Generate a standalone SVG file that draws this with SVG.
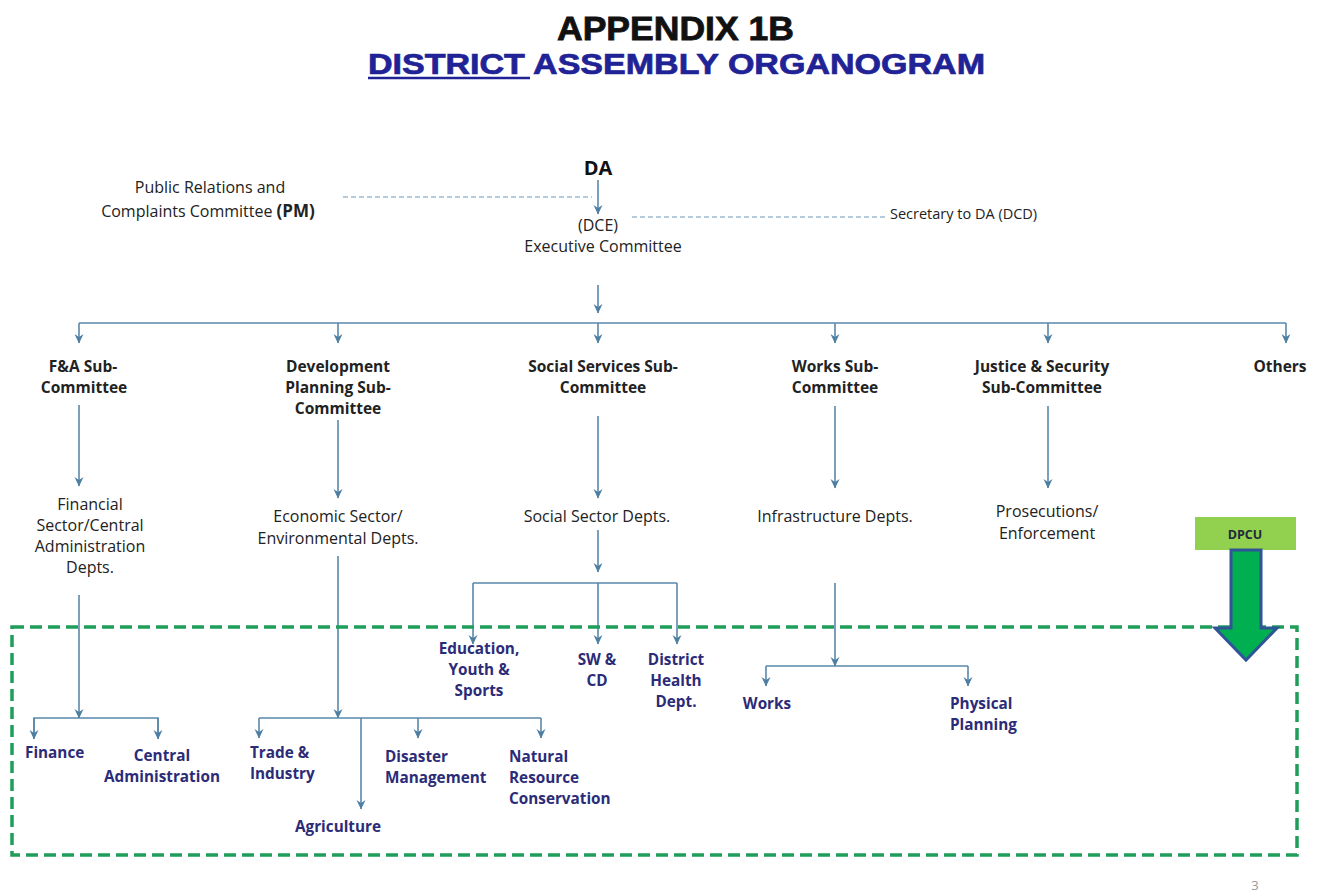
<svg xmlns="http://www.w3.org/2000/svg" width="1325" height="893" viewBox="0 0 1325 893">
<defs>
<marker id="ah" markerWidth="10" markerHeight="10" refX="9" refY="5" orient="auto" markerUnits="userSpaceOnUse" viewBox="0 0 10 10">
<path d="M0,0.5 L9.5,5 L0,9.5 L3,5 Z" fill="#4e7fa3"/>
</marker>
<style>
.c{stroke:#5a88ab;stroke-width:1.6;fill:none}
.a{marker-end:url(#ah)}
.d{stroke:#6d95b8;stroke-width:1.2;stroke-dasharray:5 3;fill:none}
.t{font-family:"Open Sans","Liberation Sans",sans-serif;font-size:16px;fill:#222;text-anchor:middle}
.tl{font-family:"Open Sans","Liberation Sans",sans-serif;font-size:14.5px;fill:#222}
.b{font-family:"Open Sans","Liberation Sans",sans-serif;font-size:15.5px;font-weight:bold;fill:#222;text-anchor:middle}
.s{font-family:"Open Sans","Liberation Sans",sans-serif;font-size:15.3px;font-weight:bold;fill:#2b2b78}
.m{text-anchor:middle}
</style>
</defs>
<rect width="1325" height="893" fill="#fff"/>
<g id="title">
<text x="557" y="40" font-family="Liberation Sans,Arial,sans-serif" font-size="33" font-weight="bold" fill="#111" stroke="#111" stroke-width="0.8" textLength="237" lengthAdjust="spacingAndGlyphs">APPENDIX 1B</text>
<text x="368" y="74" font-family="Liberation Sans,Arial,sans-serif" font-size="29" font-weight="bold" fill="#1f2396" stroke="#1f2396" stroke-width="0.7" textLength="617" lengthAdjust="spacingAndGlyphs">DISTRICT ASSEMBLY ORGANOGRAM</text>
<line x1="368" y1="78" x2="530" y2="78" stroke="#1f2396" stroke-width="2.5"/>
</g>
<g id="connectors">
<line class="c a" x1="598" y1="180" x2="598" y2="214"/>
<line class="d" x1="343" y1="197" x2="592" y2="197"/>
<line class="d" x1="632" y1="217" x2="888" y2="217"/>
<line class="c a" x1="598" y1="285" x2="598" y2="313"/>
<line class="c" x1="79" y1="323" x2="1286" y2="323"/>
<line class="c a" x1="79" y1="323" x2="79" y2="343"/>
<line class="c a" x1="338" y1="323" x2="338" y2="343"/>
<line class="c a" x1="598" y1="323" x2="598" y2="343"/>
<line class="c a" x1="835" y1="323" x2="835" y2="343"/>
<line class="c a" x1="1048" y1="323" x2="1048" y2="343"/>
<line class="c a" x1="1286" y1="323" x2="1286" y2="343"/>
<line class="c a" x1="79" y1="405" x2="79" y2="486"/>
<line class="c a" x1="338" y1="420" x2="338" y2="498"/>
<line class="c a" x1="598" y1="416" x2="598" y2="498"/>
<line class="c a" x1="835" y1="406" x2="835" y2="488"/>
<line class="c a" x1="1048" y1="406" x2="1048" y2="488"/>
<line class="c a" x1="79" y1="595" x2="79" y2="718"/>
<polyline class="c" points="34,738 34,718 158,718 158,738"/>
<line class="c a" x1="34" y1="718" x2="34" y2="739"/>
<line class="c a" x1="158" y1="718" x2="158" y2="739"/>
<line class="c a" x1="338" y1="556" x2="338" y2="718"/>
<line class="c" x1="259" y1="718" x2="541" y2="718"/>
<line class="c a" x1="259" y1="718" x2="259" y2="738"/>
<line class="c a" x1="418" y1="718" x2="418" y2="738"/>
<line class="c a" x1="541" y1="718" x2="541" y2="738"/>
<line class="c a" x1="361" y1="718" x2="361" y2="809"/>
<line class="c a" x1="598" y1="530" x2="598" y2="572"/>
<line class="c" x1="473" y1="583" x2="677" y2="583"/>
<line class="c a" x1="473" y1="583" x2="473" y2="644"/>
<line class="c a" x1="598" y1="583" x2="598" y2="644"/>
<line class="c a" x1="677" y1="583" x2="677" y2="644"/>
<line class="c a" x1="835" y1="583" x2="835" y2="666"/>
<line class="c" x1="766" y1="666" x2="968" y2="666"/>
<line class="c a" x1="766" y1="666" x2="766" y2="686"/>
<line class="c a" x1="968" y1="666" x2="968" y2="686"/>
</g>
<g id="box">
<rect x="12" y="627" width="1285" height="228" fill="none" stroke="#1e9e5a" stroke-width="3.5" stroke-dasharray="12 6"/>
</g>
<g id="dpcu">
<rect x="1195" y="517" width="101" height="33" fill="#92d050"/>
<text x="1245" y="539" font-family="Open Sans,Liberation Sans,sans-serif" font-size="12.5" font-weight="bold" text-anchor="middle" fill="#1e2a3a">DPCU</text>
<path d="M1231,550 L1261,550 L1261,628 L1277,628 L1246,660 L1215,628 L1231,628 Z" fill="#00b050" stroke="#2f5597" stroke-width="3" stroke-linejoin="miter"/>
</g>
<g id="n-da"><text x="598" y="175" font-family="Open Sans,Liberation Sans,sans-serif" font-size="20" font-weight="bold" text-anchor="middle" fill="#111">DA</text></g>
<g id="n-pr">
<text class="t" x="210" y="193">Public Relations and</text>
<text class="t" x="208" y="217">Complaints Committee <tspan font-weight="bold" font-size="17">(PM)</tspan></text>
</g>
<g id="n-dce">
<text class="t" x="598" y="231">(DCE)</text>
<text class="t" x="603" y="252">Executive Committee</text>
</g>
<g id="n-sec"><text class="tl" x="890" y="219">Secretary to DA (DCD)</text></g>
<g id="n-fa"><text class="b" x="83" y="372">F&amp;A Sub-</text><text class="b" x="84" y="393">Committee</text></g>
<g id="n-dev"><text class="b" x="338" y="372">Development</text><text class="b" x="338" y="393">Planning Sub-</text><text class="b" x="338" y="414">Committee</text></g>
<g id="n-soc"><text class="b" x="603" y="372">Social Services Sub-</text><text class="b" x="603" y="393">Committee</text></g>
<g id="n-works"><text class="b" x="835" y="372">Works Sub-</text><text class="b" x="835" y="393">Committee</text></g>
<g id="n-just"><text class="b" x="1042" y="372">Justice &amp; Security</text><text class="b" x="1042" y="393">Sub-Committee</text></g>
<g id="n-oth"><text class="b" x="1280" y="372">Others</text></g>
<g id="n-fin-sec"><text class="t" x="90" y="510">Financial</text><text class="t" x="90" y="531">Sector/Central</text><text class="t" x="90" y="552">Administration</text><text class="t" x="90" y="573">Depts.</text></g>
<g id="n-eco"><text class="t" x="338" y="522">Economic Sector/</text><text class="t" x="338" y="544">Environmental Depts.</text></g>
<g id="n-socs"><text class="t" x="597" y="522">Social Sector Depts.</text></g>
<g id="n-inf"><text class="t" x="835" y="522">Infrastructure Depts.</text></g>
<g id="n-pros"><text class="t" x="1047" y="517">Prosecutions/</text><text class="t" x="1047" y="539">Enforcement</text></g>
<g id="n-finance"><text class="s" x="25" y="758">Finance</text></g>
<g id="n-central"><text class="s m" x="162" y="761">Central</text><text class="s m" x="162" y="782">Administration</text></g>
<g id="n-trade"><text class="s" x="250" y="758">Trade &amp;</text><text class="s" x="250" y="779">Industry</text></g>
<g id="n-agri"><text class="s m" x="338" y="832">Agriculture</text></g>
<g id="n-dis"><text class="s" x="385" y="762">Disaster</text><text class="s" x="385" y="783">Management</text></g>
<g id="n-nat"><text class="s" x="509" y="762">Natural</text><text class="s" x="509" y="783">Resource</text><text class="s" x="509" y="804">Conservation</text></g>
<g id="n-edu"><text class="s m" x="479" y="654">Education,</text><text class="s m" x="479" y="675">Youth &amp;</text><text class="s m" x="479" y="696">Sports</text></g>
<g id="n-sw"><text class="s m" x="597" y="665">SW &amp;</text><text class="s m" x="597" y="686">CD</text></g>
<g id="n-dhd"><text class="s m" x="676" y="665">District</text><text class="s m" x="676" y="686">Health</text><text class="s m" x="676" y="707">Dept.</text></g>
<g id="n-wk"><text class="s m" x="767" y="709">Works</text></g>
<g id="n-pp"><text class="s" x="950" y="709">Physical</text><text class="s" x="950" y="730">Planning</text></g>
<text x="1255" y="890" font-family="Open Sans,Liberation Sans,sans-serif" font-size="13" fill="#999" text-anchor="middle">3</text>
</svg>
